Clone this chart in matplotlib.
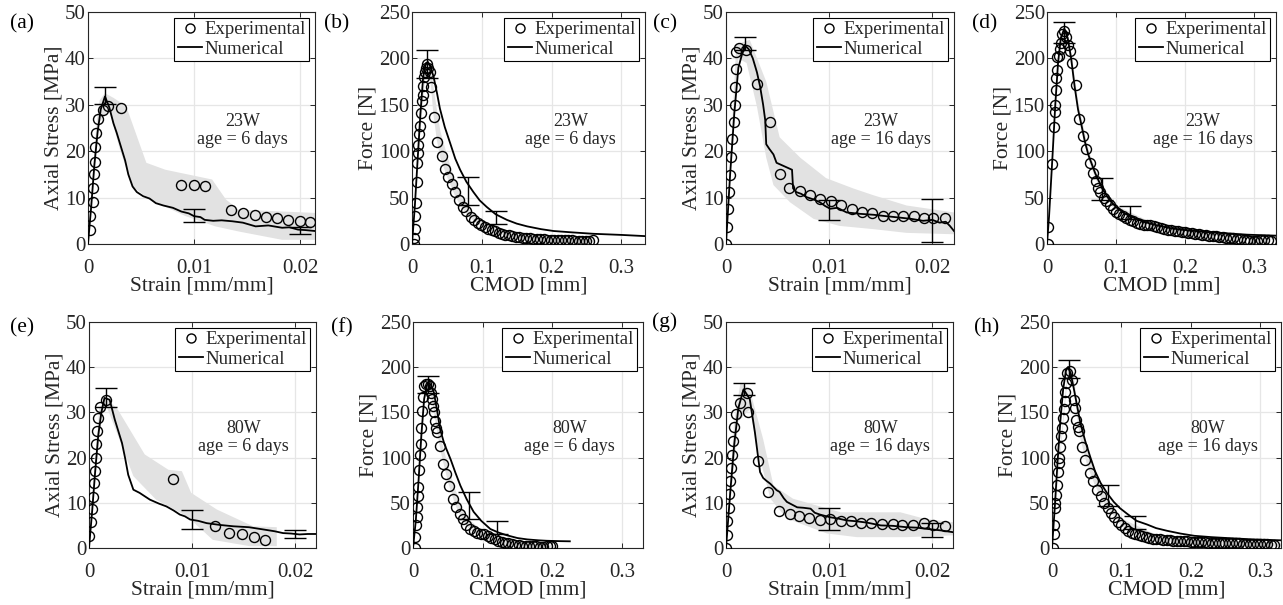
import matplotlib
matplotlib.use("Agg")
import matplotlib.pyplot as plt
import numpy as np
from matplotlib.lines import Line2D

plt.rcParams['font.family'] = ['Liberation Serif', 'DejaVu Serif']

W, H = 1283, 605
INK = "#262626"
BAND = "#e2e2e2"

# ---------------------------------------------------------------- (a) 23W, 6 days, strain
a_exp_x = [0.0002, 0.0002, 0.0005, 0.0005, 0.0006, 0.0007, 0.0007, 0.0008, 0.0009, 0.0014, 0.0019,
           0.0031, 0.0088, 0.0100, 0.0110, 0.0135, 0.0146, 0.0157, 0.0168, 0.0178, 0.0189, 0.0200, 0.0209]
a_exp_y = [3.1, 6.0, 9.0, 12.0, 15.0, 17.7, 21.0, 24.0, 27.0, 28.8, 29.7,
           29.3, 12.8, 12.8, 12.4, 7.3, 6.7, 6.2, 5.8, 5.5, 5.2, 4.9, 4.7]
a_num_x = [0, 0.0003, 0.0006, 0.0009, 0.0012, 0.0016, 0.0020, 0.0024, 0.0027, 0.0031, 0.0035, 0.0038,
           0.0042, 0.0046, 0.0052, 0.0058, 0.0064, 0.0071, 0.0080, 0.0088, 0.0095, 0.0100, 0.0106,
           0.0110, 0.0118, 0.0126, 0.0136, 0.0146, 0.0158, 0.0170, 0.0183, 0.0190, 0.0198, 0.0205, 0.0214]
a_num_y = [0, 8, 17, 24, 29, 31.8, 29.5, 26, 24, 21, 18, 15,
           12.4, 11.2, 10.3, 9.8, 8.8, 8.3, 7.8, 7.0, 6.6, 6.0, 5.8,
           5.2, 5.0, 5.1, 4.9, 4.6, 3.8, 4.0, 3.5, 3.6, 3.1, 3.0, 2.8]
a_up_x = [0, 0.0008, 0.0011, 0.0016, 0.0024, 0.0036, 0.0055, 0.0073, 0.0117, 0.0130, 0.0142, 0.0214]
a_up_y = [0, 26, 31, 32.5, 31.5, 29.7, 17.5, 16, 13.9, 9.6, 7.4, 6.7]
a_lo_x = [0, 0.0010, 0.0020, 0.0030, 0.0042, 0.0058, 0.0092, 0.0120, 0.0142, 0.0183, 0.0214]
a_lo_y = [0, 26, 29, 20.4, 12.4, 9.6, 6.0, 3.8, 2.7, 0.9, 0.9]
a_err_x = [0.0016, 0.0100, 0.0200]
a_err_y = [32.0, 6.2, 2.9]
a_err_e = [1.8, 1.4, 0.7]

# ---------------------------------------------------------------- (b) 23W, 6 days, CMOD
b_exp_x = [0.003, 0.003, 0.004, 0.005, 0.006, 0.007, 0.007, 0.008, 0.009, 0.010, 0.0115, 0.0124,
           0.0139, 0.0153, 0.0163, 0.0172, 0.0187, 0.020, 0.022, 0.0234, 0.0258, 0.0273, 0.032,
           0.036, 0.043, 0.047, 0.051, 0.057, 0.062, 0.068, 0.073, 0.078, 0.084, 0.089, 0.094,
           0.099, 0.104, 0.109, 0.114, 0.119, 0.124, 0.129, 0.134, 0.139, 0.144, 0.149, 0.154,
           0.159, 0.164, 0.169, 0.174, 0.179, 0.184, 0.189, 0.194, 0.199, 0.204, 0.209, 0.214,
           0.219, 0.224, 0.229, 0.234, 0.239, 0.244, 0.249, 0.254, 0.259]
b_exp_y = [0, 6.5, 16, 30, 44, 67, 87, 98, 107, 118, 127, 141,
           154, 161, 170, 180, 185, 190, 194, 190, 185, 169, 137,
           110, 95, 81, 72, 65, 56, 47, 40, 36, 29, 26, 23,
           20, 18, 16.5, 15, 13.5, 12, 11, 10, 9.2, 8.5, 7.8, 7.2,
           6.8, 6.4, 6.0, 5.7, 5.4, 5.2, 5.0, 4.8, 4.6, 4.5, 4.4, 4.3,
           4.2, 4.0, 3.8, 3.6, 3.2, 3.0, 2.8, 3.5, 4.0]
b_num_x = [0, 0.004, 0.008, 0.012, 0.016, 0.020, 0.023, 0.027, 0.031, 0.036, 0.040, 0.047, 0.055,
           0.062, 0.069, 0.078, 0.088, 0.097, 0.107, 0.120, 0.136, 0.150, 0.165, 0.185, 0.203,
           0.230, 0.260, 0.300, 0.334]
b_num_y = [0, 40, 90, 140, 180, 195, 196, 190, 180, 162, 146, 126, 108,
           92, 80, 67, 56, 47, 40, 32, 26, 22, 19, 16, 14,
           12.5, 11, 9.8, 8.5]
b_band_x = [0.000, 0.010, 0.018, 0.022, 0.026, 0.030, 0.035, 0.040, 0.050, 0.060, 0.070, 0.080,
            0.090, 0.100, 0.120, 0.150, 0.200, 0.260]
b_band_up = [0, 125, 190, 200, 192, 170, 145, 122, 95, 72, 55, 42, 32, 26, 18, 11, 7, 5]
b_band_lo = [0, 110, 178, 188, 175, 140, 112, 93, 72, 54, 40, 31, 24, 19, 12, 7, 3.5, 2.5]
b_err_x = [0.022, 0.080, 0.120]
b_err_y = [194, 57, 29]
b_err_e = [15, 15, 7]

# ---------------------------------------------------------------- (c) 23W, 16 days, strain
c_exp_x = [0, 0.0001, 0.0002, 0.0003, 0.0004, 0.0005, 0.0006, 0.0008, 0.0009, 0.0009, 0.0010,
           0.0010, 0.0013, 0.0019, 0.0030, 0.0043, 0.0052, 0.0061, 0.0072, 0.0081, 0.0091,
           0.0102, 0.0111, 0.0122, 0.0132, 0.0142, 0.0152, 0.0162, 0.0172, 0.0182, 0.0192,
           0.0201, 0.0212]
c_exp_y = [0, 3.7, 7.6, 11.3, 14.9, 18.8, 22.6, 26.3, 30.0, 33.9, 37.7,
           41.4, 42.3, 41.8, 34.4, 26.3, 15.1, 12.0, 11.4, 10.5, 9.8,
           9.3, 8.3, 7.6, 6.8, 6.6, 6.0, 6.0, 6.1, 6.1, 5.7,
           5.7, 5.5]
c_num_x = [0, 0.0004, 0.0008, 0.0012, 0.0018, 0.0022, 0.0026, 0.0030, 0.0033, 0.0036, 0.0038,
           0.0039, 0.0042, 0.0046, 0.0049, 0.0054, 0.0059, 0.0064, 0.0065, 0.0068, 0.0073,
           0.0078, 0.0085, 0.0091, 0.0096, 0.0101, 0.0108, 0.0117, 0.0130, 0.0143, 0.0155,
           0.0168, 0.0180, 0.0191, 0.0200, 0.0207, 0.0213, 0.0217, 0.0221]
c_num_y = [0, 15, 28, 38, 42.9, 42, 40, 37, 34, 30, 26.7,
           21.5, 20.5, 19.3, 17.5, 17, 16.5, 16, 12, 11.2, 10.8,
           10.1, 9.6, 9.0, 8.2, 7.6, 7.8, 6.8, 6.5, 6.3, 6.0,
           5.7, 5.4, 5.0, 5.2, 4.6, 4.8, 3.9, 2.8]
c_up_x = [0, 0.0010, 0.0023, 0.0039, 0.0052, 0.0072, 0.0097, 0.0123, 0.0143, 0.0175, 0.0221]
c_up_y = [0, 43, 44, 35, 23, 18.6, 14.2, 12, 10.5, 8.3, 6.8]
c_lo_x = [0, 0.0012, 0.0020, 0.0030, 0.0039, 0.0046, 0.0062, 0.0085, 0.0110, 0.0143, 0.0175, 0.0221]
c_lo_y = [0, 40, 39, 29.6, 18.6, 12.7, 9.0, 5.4, 3.9, 3.2, 2.4, 2.1]
c_err_x = [0.0018, 0.0100, 0.0200]
c_err_y = [43.2, 7.3, 5.0]
c_err_e = [1.4, 2.1, 4.6]

# ---------------------------------------------------------------- (d) 23W, 16 days, CMOD
d_exp_x = [0.0015, 0.002, 0.0077, 0.010, 0.011, 0.0116, 0.0126, 0.0135, 0.0145, 0.015, 0.0174,
           0.0184, 0.0208, 0.0222, 0.024, 0.028, 0.030, 0.033, 0.036, 0.042, 0.047, 0.052, 0.056,
           0.062, 0.067, 0.071, 0.074, 0.077, 0.082, 0.086, 0.091, 0.096, 0.100, 0.105, 0.110,
           0.115, 0.120, 0.125, 0.130, 0.135, 0.140, 0.145, 0.150, 0.155, 0.160, 0.165, 0.170,
           0.175, 0.180, 0.185, 0.190, 0.195, 0.200, 0.205, 0.210, 0.215, 0.220, 0.225, 0.230,
           0.235, 0.240, 0.245, 0.250, 0.255, 0.260, 0.265, 0.270, 0.275, 0.280, 0.285, 0.290,
           0.295, 0.300, 0.305, 0.310, 0.315, 0.320, 0.325]
d_exp_y = [0, 18, 86, 126, 142, 150, 166, 179, 187, 201, 203,
           210, 217, 226, 229, 223, 214, 208, 195, 171, 135, 116, 102,
           87, 76, 68, 60, 56, 50, 46, 42, 38, 35, 32, 30,
           28, 26, 24.5, 23, 22, 21, 20.5, 20, 19, 18, 17, 16,
           15.5, 15, 14, 13.5, 13, 12.5, 12, 11.5, 11, 10.5, 10, 9.5,
           9, 8.5, 8.2, 8, 7.5, 7, 6.5, 6, 5.5, 5, 4.5, 4,
           3.5, 3.5, 3.5, 4, 4.5, 4.5, 3.5]
d_num_x = [0, 0.003, 0.008, 0.012, 0.016, 0.020, 0.025, 0.030, 0.035, 0.040, 0.045, 0.050,
           0.055, 0.060, 0.070, 0.080, 0.090, 0.100, 0.110, 0.120, 0.140, 0.160, 0.180, 0.200,
           0.230, 0.260, 0.290, 0.332]
d_num_y = [0, 30, 95, 150, 195, 222, 232, 222, 200, 170, 145, 128,
           110, 96, 76, 60, 48, 40, 34, 30, 24, 20, 17, 15,
           13, 11.5, 10, 9]
d_band_x = [0.020, 0.025, 0.030, 0.035, 0.040, 0.045, 0.050, 0.060, 0.070, 0.080, 0.100, 0.150,
            0.200, 0.332]
d_band_up = [225, 235, 226, 205, 178, 152, 134, 101, 80, 63, 42, 24, 16, 10]
d_band_lo = [215, 222, 212, 192, 162, 138, 120, 90, 70, 55, 35, 18, 11, 5]
d_err_x = [0.025, 0.080, 0.120]
d_err_y = [228, 59, 34]
d_err_e = [11, 12, 7]

# ---------------------------------------------------------------- (e) 80W, 6 days, strain
e_exp_x = [0.00003, 0.00016, 0.00026, 0.00035, 0.00048, 0.00058, 0.00065, 0.00068, 0.0008,
           0.00084, 0.00106, 0.00165, 0.0081, 0.0122, 0.0136, 0.0148, 0.0160, 0.0171]
e_exp_y = [2.7, 5.7, 8.6, 11.3, 14.4, 17, 19.9, 23.1, 25.8,
           28.8, 31.2, 32.8, 15.3, 4.8, 3.3, 3.0, 2.4, 1.8]
e_num_x = [0, 0.0003, 0.0006, 0.0009, 0.0012, 0.0015, 0.0020, 0.0025, 0.0032, 0.0035, 0.0038,
           0.0043, 0.0049, 0.0059, 0.0068, 0.0075, 0.0082, 0.0088, 0.0093, 0.0098, 0.0106,
           0.0114, 0.0127, 0.0140, 0.0155, 0.0169, 0.0180, 0.0188, 0.0196, 0.0204, 0.0212, 0.0220]
e_num_y = [0, 8, 17, 25, 30, 33.2, 32.8, 28.4, 23.2, 19.9, 16.2,
           12.9, 12.2, 10.7, 9.8, 9.2, 8.3, 7.4, 7.0, 6.3, 6.0,
           5.5, 5.1, 4.8, 4.6, 4.1, 3.7, 3.3, 3.2, 3.0, 3.1, 3.1]
e_up_x = [0, 0.0010, 0.0017, 0.0028, 0.0054, 0.0077, 0.0090, 0.0099, 0.0124, 0.0159, 0.0182]
e_up_y = [0, 31, 33.2, 30.6, 20.7, 17.3, 17.0, 12.2, 8.5, 4.8, 4.6]
e_lo_x = [0, 0.0012, 0.0017, 0.0027, 0.0043, 0.0065, 0.0095, 0.0120, 0.0156, 0.0182]
e_lo_y = [0, 29, 31.4, 25.5, 15.9, 10.7, 7.0, 1.8, 0.4, 0.4]
e_err_x = [0.0016, 0.0100, 0.0200]
e_err_y = [33.3, 6.3, 3.1]
e_err_e = [2.2, 2.1, 0.9]

# ---------------------------------------------------------------- (f) 80W, 6 days, CMOD
f_exp_x = [0.0033, 0.0033, 0.0043, 0.0053, 0.0057, 0.0067, 0.0072, 0.0091, 0.0105, 0.0115,
           0.012, 0.0129, 0.0144, 0.0163, 0.0191, 0.021, 0.024, 0.0258, 0.0273, 0.0287, 0.0297,
           0.0311, 0.0325, 0.0344, 0.0383, 0.043, 0.0478, 0.0512, 0.0574, 0.0622, 0.067, 0.0718,
           0.0766, 0.0823, 0.087, 0.092, 0.097, 0.102, 0.107, 0.112, 0.117, 0.122, 0.127, 0.132,
           0.137, 0.142, 0.147, 0.152, 0.157, 0.162, 0.167, 0.172, 0.177, 0.182, 0.187, 0.192,
           0.197, 0.200]
f_exp_y = [0, 12, 25, 34, 45, 58, 67, 86, 103, 115,
           133, 152, 167, 179, 181, 181, 179, 172, 165, 157, 150,
           141, 133, 128, 113, 93, 82, 69, 54, 45, 38, 32,
           25, 21, 19, 17, 15.5, 15, 13, 11, 9.5, 8, 7, 6,
           5, 4.2, 3.5, 3, 2.5, 2.2, 2, 2, 1.8, 1.5, 1.5, 1.8,
           2, 2.5]
f_num_x = [0, 0.004, 0.008, 0.012, 0.016, 0.020, 0.0225, 0.026, 0.030, 0.035, 0.039, 0.045,
           0.054, 0.061, 0.068, 0.077, 0.087, 0.098, 0.111, 0.123, 0.135, 0.150, 0.164, 0.180,
           0.192, 0.210, 0.225]
f_num_y = [0, 30, 75, 125, 165, 180, 183, 180, 172, 150, 131, 115,
           98, 83, 69, 54, 40, 30, 21, 17, 14, 11, 9.5, 8.5,
           8, 7.6, 7.4]
f_band_x = [0.000, 0.010, 0.016, 0.020, 0.024, 0.028, 0.032, 0.036, 0.040, 0.050, 0.060, 0.070,
            0.080, 0.100, 0.130, 0.200]
f_band_up = [0, 110, 175, 186, 184, 170, 152, 135, 120, 90, 65, 45, 32, 19, 9, 4]
f_band_lo = [0, 95, 165, 176, 172, 158, 138, 120, 104, 72, 48, 32, 21, 11, 4, 1]
f_err_x = [0.022, 0.080, 0.120]
f_err_y = [181, 47.5, 23]
f_err_e = [9, 15, 7]

# ---------------------------------------------------------------- (g) 80W, 16 days, strain
g_exp_x = [0, 0.00006, 0.00013, 0.00026, 0.00032, 0.00042, 0.00049, 0.00058, 0.00068, 0.00081,
           0.00097, 0.00136, 0.00201, 0.00217, 0.00314, 0.00411, 0.00518, 0.00622, 0.00712,
           0.00809, 0.00913, 0.0101, 0.0111, 0.0121, 0.0131, 0.0141, 0.0151, 0.0162, 0.0171,
           0.0181, 0.0192, 0.0201, 0.0212]
g_exp_y = [0, 2.9, 5.9, 8.8, 12, 14.9, 17.6, 20.6, 23.7, 26.7,
           29.7, 32.1, 34.2, 30, 19.2, 12.5, 8.1, 7.6, 7.1,
           6.7, 6.3, 6.5, 6.0, 5.9, 5.6, 5.6, 5.4, 5.2, 5.1,
           5.0, 5.5, 5.1, 4.9]
g_num_x = [0, 0.0004, 0.0008, 0.0012, 0.0017, 0.0023, 0.0028, 0.0033, 0.0036, 0.0039, 0.0043,
           0.0046, 0.0049, 0.0052, 0.0056, 0.0059, 0.0064, 0.0069, 0.0075, 0.0082, 0.0086,
           0.0091, 0.0096, 0.0101, 0.0109, 0.0117, 0.0127, 0.0137, 0.0150, 0.0162, 0.0175,
           0.0185, 0.0192, 0.0200, 0.0208, 0.0220]
g_num_y = [0, 12, 23, 31, 35.1, 33, 25.6, 16.8, 15.5, 14.9, 14.2,
           13.5, 12.8, 12.4, 11, 10.2, 9.6, 9.0, 8.9, 8.7, 7.8,
           7.4, 7.1, 6.8, 6.5, 6.1, 5.9, 5.6, 5.0, 4.9, 4.6,
           4.5, 4.3, 4.1, 3.9, 3.5]
g_up_x = [0, 0.0008, 0.0014, 0.0023, 0.0036, 0.0046, 0.0065, 0.0111, 0.0169, 0.0192, 0.0220]
g_up_y = [0, 28, 36.6, 35.1, 24.1, 13.8, 10.9, 7.9, 7.9, 6.5, 5.7]
g_lo_x = [0, 0.0012, 0.0023, 0.0033, 0.0043, 0.0059, 0.0098, 0.0127, 0.0175, 0.0220]
g_lo_y = [0, 28, 30.7, 19.7, 10.9, 6.5, 3.2, 2.4, 2.4, 2.8]
g_err_x = [0.0017, 0.0100, 0.0200]
g_err_y = [35.2, 6.4, 4.0]
g_err_e = [1.4, 2.5, 1.6]

# ---------------------------------------------------------------- (h) 80W, 16 days, CMOD
h_exp_x = [0.0014, 0.0024, 0.0034, 0.0039, 0.0048, 0.0063, 0.0072, 0.0087, 0.0096, 0.0106,
           0.012, 0.0135, 0.0149, 0.0159, 0.0169, 0.0183, 0.0193, 0.0207, 0.0217, 0.0255,
           0.0289, 0.0323, 0.0337, 0.0351, 0.0371, 0.0385, 0.0433, 0.0481, 0.0544, 0.0592,
           0.065, 0.0708, 0.0756, 0.0804, 0.0852, 0.090, 0.095, 0.100, 0.105, 0.110, 0.115,
           0.120, 0.125, 0.130, 0.135, 0.140, 0.145, 0.150, 0.155, 0.160, 0.165, 0.170, 0.175,
           0.180, 0.185, 0.190, 0.195, 0.200, 0.205, 0.210, 0.215, 0.220, 0.225, 0.230, 0.235,
           0.240, 0.245, 0.250, 0.255, 0.260, 0.265, 0.270, 0.275, 0.280, 0.285, 0.290, 0.295,
           0.300, 0.305, 0.310, 0.315, 0.320]
h_exp_y = [0, 15, 25, 44, 50, 59, 70, 84, 94, 100,
           112, 124, 133, 144, 154, 163, 173, 182, 194, 196,
           186, 164, 155, 142, 134, 129, 112, 97, 83, 74,
           64, 57, 50, 44, 39, 34, 29, 25, 22, 19, 17,
           15, 14, 13, 12, 11, 10.5, 10, 9.5, 9, 8.7, 8.5, 8.2,
           8, 7.7, 7.5, 7.2, 7, 6.7, 6.5, 6.3, 6.2, 6, 6, 5.8,
           5.7, 5.6, 5.5, 5.3, 5.2, 5, 5, 4.9, 4.8, 4.6, 4.5, 4.4,
           4.3, 4.2, 4.0, 3.8, 3.5]
h_num_x = [0, 0.004, 0.008, 0.012, 0.016, 0.020, 0.023, 0.027, 0.031, 0.036, 0.041, 0.048,
           0.055, 0.062, 0.070, 0.080, 0.089, 0.098, 0.108, 0.122, 0.137, 0.150, 0.166, 0.185,
           0.205, 0.230, 0.253, 0.290, 0.330]
h_num_y = [0, 45, 95, 140, 175, 196, 200, 193, 178, 158, 138, 118,
           101, 85, 72, 60, 51, 44, 38, 30, 26, 22, 19, 16,
           13.5, 12, 11, 9.5, 8.5]
h_band_x = [0.000, 0.010, 0.018, 0.022, 0.026, 0.030, 0.035, 0.040, 0.050, 0.060, 0.070, 0.080,
            0.100, 0.150, 0.200, 0.330]
h_band_up = [0, 100, 168, 200, 205, 195, 165, 140, 108, 85, 67, 53, 33, 15, 10, 6]
h_band_lo = [0, 92, 158, 190, 192, 180, 148, 122, 92, 72, 56, 44, 24, 9, 5, 2]
h_err_x = [0.025, 0.080, 0.120]
h_err_y = [198, 58, 28]
h_err_e = [10, 12, 7]

# ---------------------------------------------------------------- layout (pixels)
strain_ticks = [0, 0.01, 0.02]
cmod_ticks = [0, 0.1, 0.2, 0.3]
stress_ticks = [0, 10, 20, 30, 40, 50]
force_ticks = [0, 50, 100, 150, 200, 250]

fig = plt.figure(figsize=(W / 100, H / 100), dpi=100)


def make_ax(l, r, t, b):
    return fig.add_axes([l / W, 1 - b / H, (r - l) / W, (b - t) / H])


def style(ax, xlim, ylim, xt, yt, xlabel, ylabel, xtl):
    ax.set_xlim(*xlim)
    ax.set_ylim(*ylim)
    ax.set_xticks(xt)
    ax.set_xticklabels(xtl)
    ax.set_yticks(yt)
    ax.set_axisbelow(True)
    ax.grid(True, color="#e6e6e6", linewidth=0.9)
    ax.tick_params(direction="in", length=3.5, width=0.7, top=True, right=True,
                   labelsize=15, colors=INK)
    ax.tick_params(axis="x", pad=11)
    ax.tick_params(axis="y", pad=1.5)
    for s in ax.spines.values():
        s.set_color(INK)
        s.set_linewidth(0.8)
    ax.set_xlabel(xlabel, fontsize=15.5, color=INK, labelpad=-1)
    ax.set_ylabel(ylabel, fontsize=15.5, color=INK, labelpad=1)


def draw(ax, exp_x, exp_y, num_x, num_y, err_x, err_y, err_e, txt):
    ax.plot(num_x, num_y, color="k", lw=1.3, zorder=3)
    ax.plot(exp_x, exp_y, "o", mfc="none", mec="k", ms=7.2, mew=1.0, zorder=4)
    ax.errorbar(err_x, err_y, yerr=err_e, fmt="none", ecolor="k", elinewidth=1.0,
                capsize=8, capthick=1.0, zorder=5)
    ax.text(0.68, 0.49, txt, transform=ax.transAxes, ha="center", va="center",
            fontsize=13, color=INK, linespacing=1.1)
    hs = [Line2D([], [], ls="none", marker="o", mfc="none", mec="k", ms=6.5, mew=1.0),
          Line2D([], [], color="k", lw=1.3)]
    leg = ax.legend(hs, ["Experimental", "Numerical"], loc="upper right", fontsize=13.5,
                    frameon=True, fancybox=False, framealpha=1, edgecolor="k",
                    handlelength=1.3, handletextpad=0.1, borderpad=0.2,
                    labelspacing=0.1, borderaxespad=0.3)
    leg.get_frame().set_linewidth(0.8)
    for t in leg.get_texts():
        t.set_color(INK)


def band_poly(ax, ux, uy, lx, ly):
    ax.fill(list(ux) + list(lx)[::-1], list(uy) + list(ly)[::-1],
            color=BAND, lw=0, zorder=1)


def band_fill(ax, bx, bu, bl):
    ax.fill_between(bx, bl, bu, color=BAND, lw=0, zorder=1)


TOP = (12, 244)
BOT = (322, 548)

# (a)
ax = make_ax(88, 315, *TOP)
band_poly(ax, a_up_x, a_up_y, a_lo_x, a_lo_y)
draw(ax, a_exp_x, a_exp_y, a_num_x, a_num_y, a_err_x, a_err_y, a_err_e, "23W\nage = 6 days")
style(ax, (0, 0.0214), (0, 50), strain_ticks, stress_ticks, "Strain [mm/mm]",
      "Axial Stress [MPa]", ["0", "0.01", "0.02"])

# (b)
ax = make_ax(412, 645, *TOP)
band_fill(ax, b_band_x, b_band_up, b_band_lo)
draw(ax, b_exp_x, b_exp_y, b_num_x, b_num_y, b_err_x, b_err_y, b_err_e, "23W\nage = 6 days")
style(ax, (0, 0.334), (0, 250), cmod_ticks, force_ticks, "CMOD [mm]", "Force [N]",
      ["0", "0.1", "0.2", "0.3"])

# (c)
ax = make_ax(726, 954, *TOP)
band_poly(ax, c_up_x, c_up_y, c_lo_x, c_lo_y)
draw(ax, c_exp_x, c_exp_y, c_num_x, c_num_y, c_err_x, c_err_y, c_err_e, "23W\nage = 16 days")
style(ax, (0, 0.0221), (0, 50), strain_ticks, stress_ticks, "Strain [mm/mm]",
      "Axial Stress [MPa]", ["0", "0.01", "0.02"])

# (d)
ax = make_ax(1047, 1276, *TOP)
band_fill(ax, d_band_x, d_band_up, d_band_lo)
draw(ax, d_exp_x, d_exp_y, d_num_x, d_num_y, d_err_x, d_err_y, d_err_e, "23W\nage = 16 days")
style(ax, (0, 0.332), (0, 250), cmod_ticks, force_ticks, "CMOD [mm]", "Force [N]",
      ["0", "0.1", "0.2", "0.3"])

# (e)
ax = make_ax(89, 316, *BOT)
band_poly(ax, e_up_x, e_up_y, e_lo_x, e_lo_y)
draw(ax, e_exp_x, e_exp_y, e_num_x, e_num_y, e_err_x, e_err_y, e_err_e, "80W\nage = 6 days")
style(ax, (0, 0.022), (0, 50), strain_ticks, stress_ticks, "Strain [mm/mm]",
      "Axial Stress [MPa]", ["0", "0.01", "0.02"])

# (f)
ax = make_ax(413, 643, *BOT)
band_fill(ax, f_band_x, f_band_up, f_band_lo)
draw(ax, f_exp_x, f_exp_y, f_num_x, f_num_y, f_err_x, f_err_y, f_err_e, "80W\nage = 6 days")
style(ax, (0, 0.33), (0, 250), cmod_ticks, force_ticks, "CMOD [mm]", "Force [N]",
      ["0", "0.1", "0.2", "0.3"])

# (g)
ax = make_ax(726, 953, *BOT)
band_poly(ax, g_up_x, g_up_y, g_lo_x, g_lo_y)
draw(ax, g_exp_x, g_exp_y, g_num_x, g_num_y, g_err_x, g_err_y, g_err_e, "80W\nage = 16 days")
style(ax, (0, 0.022), (0, 50), strain_ticks, stress_ticks, "Strain [mm/mm]",
      "Axial Stress [MPa]", ["0", "0.01", "0.02"])

# (h)
ax = make_ax(1052, 1281, *BOT)
band_fill(ax, h_band_x, h_band_up, h_band_lo)
draw(ax, h_exp_x, h_exp_y, h_num_x, h_num_y, h_err_x, h_err_y, h_err_e, "80W\nage = 16 days")
style(ax, (0, 0.33), (0, 250), cmod_ticks, force_ticks, "CMOD [mm]", "Force [N]",
      ["0", "0.1", "0.2", "0.3"])

# panel letters
letters = ["(a)", "(b)", "(c)", "(d)", "(e)", "(f)", "(g)", "(h)"]
let_x = [22, 337, 665, 985, 22, 342, 665, 987]
let_y = [24, 24, 24, 24, 328, 328, 322, 328]
for s, lx, ly in zip(letters, let_x, let_y):
    fig.text(lx / W, 1 - ly / H, s, fontsize=15.5, color="k", ha="center", va="center")

fig.savefig("out.png", dpi=100, facecolor="white")
